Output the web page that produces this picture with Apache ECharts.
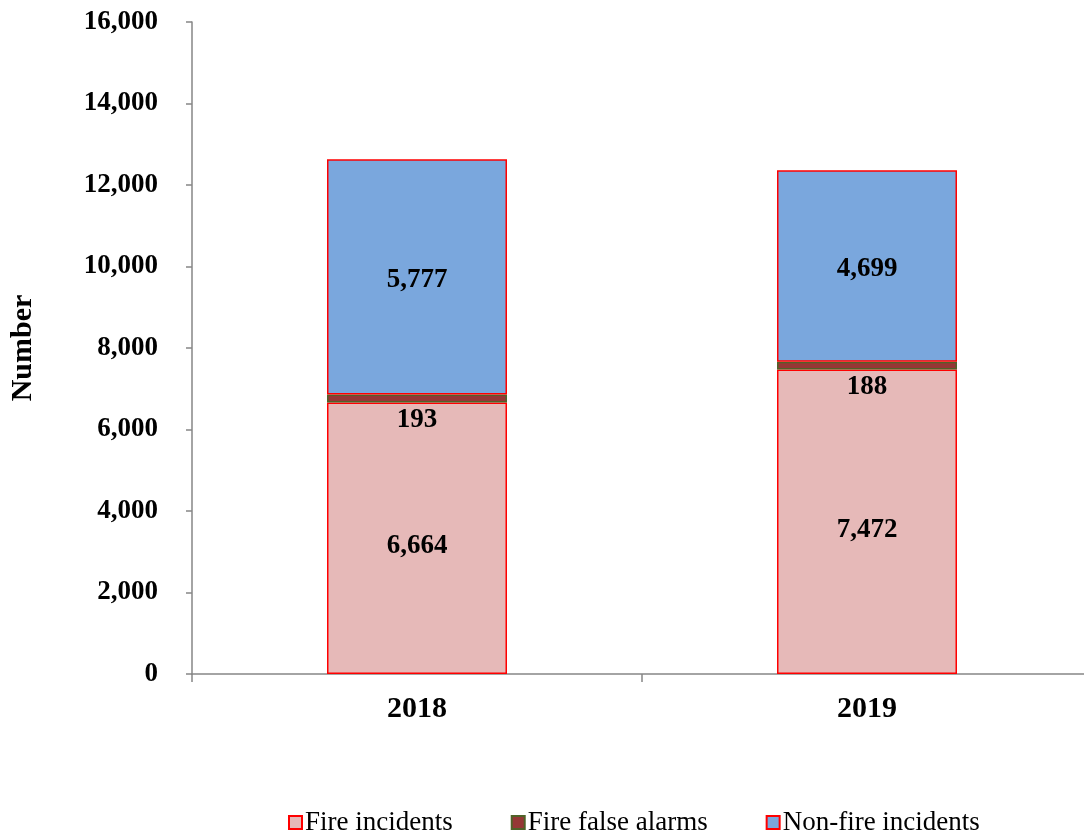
<!DOCTYPE html>
<html>
<head>
<meta charset="utf-8">
<script src="https://cdn.jsdelivr.net/npm/echarts@6/dist/echarts.min.js"></script>
<style>
    html, body { margin: 0; padding: 0; background: #fff; }
    #chart { width: 1084px; height: 837px; }
</style>
</head>
<body>
<div id="chart"></div>
<script>
const years = ['2018', '2019']
const fireIncidents = [6664, 7472]
const fireFalseAlarms = [193, 188]
const nonFireIncidents = [5777, 4699]

const chartInstance = echarts.init(document.getElementById('chart'))

const fontFamily = '"Liberation Serif", "Times New Roman", serif'
const numFmt = v => v.toLocaleString('en-US')

const option = {
    animation: false,
    textStyle: { fontFamily: fontFamily },
    grid: {
        left: 192,
        right: -8,
        top: 22,
        bottom: 163,
        outerBoundsMode: 'none'
    },
    legend: {
        top: 809,
        left: 288,
        padding: 0,
        itemWidth: 13,
        itemHeight: 13,
        itemGap: 58,
        icon: 'rect',
        textStyle: {
            fontFamily: fontFamily,
            fontSize: 27,
            color: '#000',
            padding: [0, 0, 0, -2]
        },
        data: ['Fire incidents', 'Fire false alarms', 'Non-fire incidents']
    },
    xAxis: {
        type: 'category',
        data: years,
        axisLine: { lineStyle: { color: '#868686', width: 1.5 } },
        axisTick: { show: true, length: 8, lineStyle: { color: '#868686', width: 1.5 } },
        axisLabel: {
            margin: 20,
            fontSize: 30,
            fontWeight: 'bold',
            color: '#000',
            fontFamily: fontFamily
        }
    },
    yAxis: {
        type: 'value',
        min: 0,
        max: 16000,
        interval: 2000,
        name: 'Number',
        nameLocation: 'middle',
        nameGap: 154,
        nameRotate: 90,
        nameTextStyle: {
            fontSize: 30,
            fontWeight: 'bold',
            color: '#000',
            fontFamily: fontFamily
        },
        axisLine: { show: true, lineStyle: { color: '#868686', width: 1.5 } },
        axisTick: { show: true, length: 6, inside: false, lineStyle: { color: '#868686', width: 1.5 } },
        splitLine: { show: false },
        axisLabel: {
            margin: 34,
            fontSize: 27,
            fontWeight: 'bold',
            color: '#000',
            fontFamily: fontFamily,
            formatter: numFmt
        }
    },
    series: [
        {
            name: 'Fire incidents',
            type: 'bar',
            stack: 'total',
            barWidth: '40%',
            data: fireIncidents,
            itemStyle: { color: '#e6b9b8', borderColor: '#ff0000', borderWidth: 1.5 },
            label: {
                show: true,
                position: 'inside',
                offset: [0, 8],
                fontSize: 27,
                fontWeight: 'bold',
                color: '#000',
                fontFamily: fontFamily,
                formatter: p => numFmt(p.value)
            }
        },
        {
            name: 'Fire false alarms',
            type: 'bar',
            stack: 'total',
            data: fireFalseAlarms,
            itemStyle: { color: '#953735', borderColor: '#4f6228', borderWidth: 1.5 },
            label: {
                show: true,
                position: 'bottom',
                distance: 4,
                fontSize: 27,
                fontWeight: 'bold',
                color: '#000',
                fontFamily: fontFamily,
                formatter: p => numFmt(p.value)
            }
        },
        {
            name: 'Non-fire incidents',
            type: 'bar',
            stack: 'total',
            data: nonFireIncidents,
            itemStyle: { color: '#7aa7dd', borderColor: '#ff0000', borderWidth: 1.5 },
            label: {
                show: true,
                position: 'inside',
                offset: [0, 3],
                fontSize: 27,
                fontWeight: 'bold',
                color: '#000',
                fontFamily: fontFamily,
                formatter: p => numFmt(p.value)
            }
        }
    ]
}

chartInstance.setOption(option)
</script>
</body>
</html>
